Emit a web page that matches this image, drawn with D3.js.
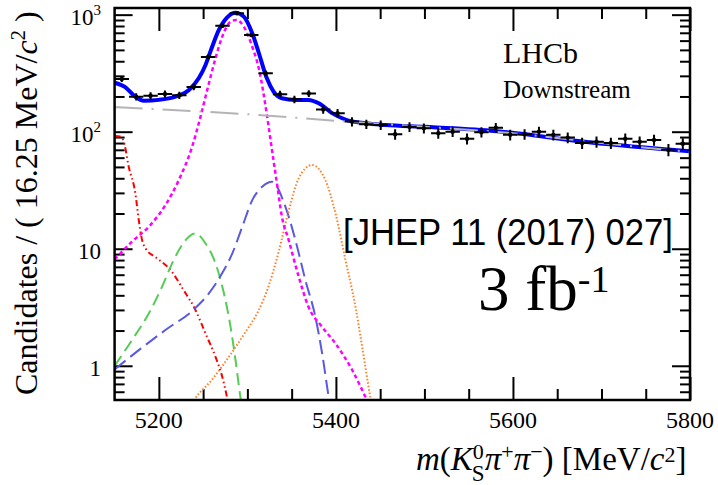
<!DOCTYPE html>
<html>
<head>
<meta charset="utf-8">
<script src="https://cdn.jsdelivr.net/npm/d3@7"></script>
<style>
  body { margin: 0; background: #fff; }
  svg { display: block; }
</style>
</head>
<body>
<svg id="chart"></svg>
<script>
// binned data, 16.25 MeV bins from 5150 to 5800
const binStart = 5150;
const binWidth = 16.25;
const counts = [282, 199, 203, 210, 205, 241, 435, 805, 1028, 670,
                316, 209, 189, 212, 155, 144, 122, 116, 114, 95,
                110, 107, 97, 100, 87, 99, 108, 94, 95, 100,
                94, 89, 80, 82, 80, 87, 82, 85, 70, 79];

// fit curves, [mass, candidates]
const totalFit = [[5150, 262], [5162, 240], [5173.4, 199], [5183, 184], [5200, 187], [5218.7, 199],
                  [5233.9, 227], [5245, 286], [5252.7, 372], [5260.2, 532], [5267.8, 740], [5277.2, 950],
                  [5286.6, 1040], [5296, 961], [5305.5, 693], [5313, 468], [5322, 286], [5329.6, 220],
                  [5339, 193], [5354.2, 187], [5369.2, 187], [5380.6, 175], [5395.7, 144], [5410.8, 127],
                  [5433.4, 118], [5456, 114], [5500, 110], [5575, 102], [5688, 81], [5800, 68]];
const combBkg = [[5150, 162], [5300, 141], [5400, 124], [5500, 110], [5600, 97], [5700, 80], [5800, 67]];
const signalB0 = [[5150, 8.1], [5169.7, 11.5], [5188.6, 15.4], [5207.4, 23.6], [5222.5, 38.6], [5237.6, 74.5],
                  [5247, 134], [5254.6, 227], [5264, 424], [5271.6, 649], [5281, 871], [5287.4, 901],
                  [5296, 789], [5305.5, 532], [5313, 345], [5322, 140], [5327.8, 69.8], [5333.4, 36.2],
                  [5339, 18.8], [5346.6, 11.9], [5358, 5.76], [5369, 3.19], [5384.4, 2.15], [5399.5, 1.55],
                  [5418.4, 0.92], [5433.4, 0.54], [5440, 0.42]];
const redBkg = [[5150, 92], [5156, 91], [5160, 84], [5166, 50], [5173.4, 29.8], [5177.3, 17.6], [5181, 11.9],
                [5184.8, 10.1], [5196, 8.5], [5213, 6.6], [5228.2, 4.4], [5241.3, 3.0], [5252.7, 1.89],
                [5264, 1.19], [5271.6, 0.805], [5277.2, 0.53], [5280, 0.42]];
const greenBkg = [[5150, 1.0], [5169.7, 1.66], [5188.6, 2.8], [5203.6, 4.73], [5215, 7.5], [5226.3, 10.8],
                  [5241.3, 13.5], [5252.7, 11.1], [5264, 7.5], [5273.5, 4.16], [5281, 2.15], [5286.6, 1.12],
                  [5292.3, 0.53], [5295, 0.4]];
const violetBkg = [[5150, 0.93], [5177.3, 1.36], [5207.4, 2.02], [5240, 3.05], [5256.5, 4.16], [5271.6, 6.2],
                   [5282.9, 9.1], [5294.2, 15.4], [5305.5, 26], [5317, 34], [5327.8, 37.4], [5342.9, 22.9],
                   [5354.2, 11.9], [5365.5, 5.4], [5376.8, 2.62], [5384.4, 1.28], [5391.9, 0.54], [5395, 0.4]];
const orangeBkg = [[5235, 0.45], [5241.3, 0.53], [5260, 0.76], [5279, 1.19], [5298, 1.95], [5312, 2.9],
                   [5324, 4.8], [5335, 9.2], [5346.6, 21], [5358, 40], [5373, 51.9], [5388.1, 38.6],
                   [5399.5, 20.1], [5410.8, 8.0], [5422.1, 3.19], [5429.7, 1.45], [5439, 0.53], [5442, 0.4]];

// axis ticks
const xMajor = [5200, 5400, 5600, 5800];
const xMinor = [5250, 5300, 5350, 5450, 5500, 5550, 5650, 5700, 5750];
const yMajor = [1, 10, 100, 1000];
const yMajorLabels = [["1", ""], ["10", ""], ["10", "2"], ["10", "3"]];
const yMinor = [0.6, 0.7, 0.8, 0.9, 2, 3, 4, 5, 6, 7, 8, 9, 20, 30, 40, 50, 60, 70, 80, 90,
                200, 300, 400, 500, 600, 700, 800, 900];

const W = 718, H = 485;
const frame = { left: 114.6, right: 690, top: 8, bottom: 400 };
const serif = "'Liberation Serif', 'Times New Roman', serif";

const svg = d3.select("#chart").attr("width", W).attr("height", H);

const x = d3.scaleLinear().domain([5150, 5800]).range([frame.left, frame.right]);
const y = d3.scaleLog().domain([0.51, 1140]).range([frame.bottom, frame.top]);

svg.append("clipPath").attr("id", "plot-clip")
    .append("rect")
    .attr("x", frame.left).attr("y", frame.top)
    .attr("width", frame.right - frame.left)
    .attr("height", frame.bottom - frame.top);

// ticks (inward, ROOT style)
function tickAxis(axisFn, scale, values, size, tx, ty) {
    const g = svg.append("g")
        .attr("transform", `translate(${tx},${ty})`)
        .call(axisFn(scale).tickValues(values).tickSize(-size).tickFormat(""));
    g.select(".domain").remove();
    g.selectAll(".tick line").attr("stroke", "#000").attr("stroke-width", 2);
    return g;
}
tickAxis(d3.axisBottom, x, xMajor, 23, 0, frame.bottom);
tickAxis(d3.axisBottom, x, xMinor, 11, 0, frame.bottom);
tickAxis(d3.axisTop, x, xMajor, 23, 0, frame.top);
tickAxis(d3.axisTop, x, xMinor, 11, 0, frame.top);
tickAxis(d3.axisLeft, y, yMajor, 18, frame.left, 0);
tickAxis(d3.axisLeft, y, yMinor, 10, frame.left, 0);
tickAxis(d3.axisRight, y, yMajor, 18, frame.right, 0);
tickAxis(d3.axisRight, y, yMinor, 10, frame.right, 0);

// x tick labels
svg.append("g").selectAll("text")
    .data(xMajor)
    .join("text")
    .attr("x", d => x(d))
    .attr("y", 428)
    .attr("text-anchor", "middle")
    .attr("font-family", serif)
    .attr("font-size", 24)
    .text(d => d);

// y tick labels
const yl = svg.append("g").selectAll("text")
    .data(yMajor)
    .join("text")
    .attr("x", 101)
    .attr("y", d => y(d) + 10.5)
    .attr("text-anchor", "end")
    .attr("font-family", serif)
    .attr("font-size", 23);
yl.append("tspan").text((d, i) => yMajorLabels[i][0]);
yl.append("tspan")
    .attr("font-size", 15)
    .attr("dy", -10)
    .text((d, i) => yMajorLabels[i][1]);

// curves
const line = d3.line()
    .x(d => x(d[0]))
    .y(d => y(d[1]))
    .curve(d3.curveMonotoneX);

const plot = svg.append("g").attr("clip-path", "url(#plot-clip)");

plot.append("path").datum(totalFit)
    .attr("d", line).attr("fill", "none")
    .attr("stroke", "#0000ff").attr("stroke-width", 4);

const comps = [
    { data: redBkg, color: "#ff0000", width: 2, dash: "6,3,1.5,3,1.5,3" },
    { data: greenBkg, color: "#55cc55", width: 2, dash: "12,6" },
    { data: violetBkg, color: "#5a5ae0", width: 2, dash: "14,6" },
    { data: orangeBkg, color: "#ff7f27", width: 2, dash: "1.5,2" },
    { data: signalB0, color: "#ff00ff", width: 2.5, dash: "4,3" },
    { data: combBkg, color: "#b4b4b4", width: 2, dash: "28,9,2,9" }
];
plot.selectAll("path.comp")
    .data(comps)
    .join("path")
    .attr("class", "comp")
    .attr("d", d => line(d.data))
    .attr("fill", "none")
    .attr("stroke", d => d.color)
    .attr("stroke-width", d => d.width)
    .attr("stroke-dasharray", d => d.dash);

// data points with poisson errors
const points = counts.map((n, i) => ({
    lo: binStart + i * binWidth,
    hi: binStart + (i + 1) * binWidth,
    mid: binStart + (i + 0.5) * binWidth,
    n: n,
    err: Math.sqrt(n)
}));
const pg = plot.append("g").selectAll("g")
    .data(points)
    .join("g");
pg.append("line")
    .attr("x1", d => x(d.lo)).attr("x2", d => x(d.hi))
    .attr("y1", d => y(d.n)).attr("y2", d => y(d.n))
    .attr("stroke", "#000").attr("stroke-width", 2);
pg.append("line")
    .attr("x1", d => x(d.mid)).attr("x2", d => x(d.mid))
    .attr("y1", d => y(d.n - d.err)).attr("y2", d => y(d.n + d.err))
    .attr("stroke", "#000").attr("stroke-width", 2);
pg.append("circle")
    .attr("cx", d => x(d.mid)).attr("cy", d => y(d.n))
    .attr("r", 2.2).attr("fill", "#000");

// frame
svg.append("rect")
    .attr("x", frame.left).attr("y", frame.top)
    .attr("width", frame.right - frame.left)
    .attr("height", frame.bottom - frame.top)
    .attr("fill", "none").attr("stroke", "#000").attr("stroke-width", 2.5);

// axis titles
const yTitle = svg.append("text")
    .attr("transform", "translate(37,395) rotate(-90)")
    .attr("font-family", serif)
    .attr("font-size", 32);
yTitle.append("tspan").text("Candidates / ( 16.25 MeV/");
yTitle.append("tspan").attr("font-style", "italic").text("c");
yTitle.append("tspan").attr("font-size", 21).attr("dy", -12).text("2");
yTitle.append("tspan").attr("dy", 12).text(" )");

const xTitle = svg.append("text")
    .attr("x", 416).attr("y", 470)
    .attr("font-family", serif)
    .attr("font-size", 33);
xTitle.append("tspan").attr("font-style", "italic").text("m");
xTitle.append("tspan").text("(");
xTitle.append("tspan").attr("font-style", "italic").text("K");
xTitle.append("tspan").attr("font-size", 22).attr("dy", -11).text("0");
xTitle.append("tspan").attr("font-size", 23).attr("dx", -12).attr("dy", 22).text("S");
xTitle.append("tspan").attr("font-style", "italic").attr("dy", -11).text("π");
xTitle.append("tspan").attr("font-size", 22).attr("dy", -11).text("+");
xTitle.append("tspan").attr("font-style", "italic").attr("dy", 11).text("π");
xTitle.append("tspan").attr("font-size", 22).attr("dy", -11).text("−");
xTitle.append("tspan").attr("dy", 11).text(") [MeV/");
xTitle.append("tspan").attr("font-style", "italic").text("c");
xTitle.append("tspan").attr("font-size", 22).attr("dy", -8).text("2");
xTitle.append("tspan").attr("dy", 8).text("]");

// annotations
svg.append("text")
    .attr("x", 503).attr("y", 63)
    .attr("font-family", serif).attr("font-size", 30)
    .text("LHCb");
svg.append("text")
    .attr("x", 503).attr("y", 98)
    .attr("font-family", serif).attr("font-size", 25)
    .text("Downstream");
svg.append("text")
    .attr("x", 343).attr("y", 245)
    .attr("font-family", "'Liberation Sans', Arial, sans-serif")
    .attr("font-size", 37)
    .attr("textLength", 330)
    .attr("lengthAdjust", "spacingAndGlyphs")
    .text("[JHEP 11 (2017) 027]");
const lumi = svg.append("text")
    .attr("x", 478).attr("y", 310)
    .attr("font-family", serif).attr("font-size", 63);
lumi.append("tspan").text("3 fb");
lumi.append("tspan").attr("font-size", 38).attr("dy", -18).text("-1");
</script>
</body>
</html>
